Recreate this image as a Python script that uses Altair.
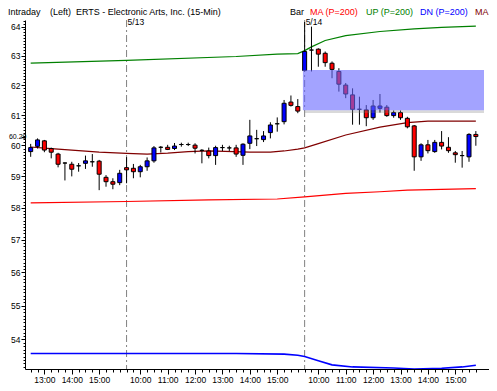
import json
import numpy as np
import pandas as pd
import altair as alt

# ---------------- data ----------------
day12_times = ["12:30", "12:45", "13:00", "13:15", "13:30", "13:45", "14:00", "14:15",
               "14:30", "14:45", "15:00", "15:15", "15:30", "15:45"]
day_times = ["9:30", "9:45", "10:00", "10:15", "10:30", "10:45", "11:00", "11:15", "11:30",
             "11:45", "12:00", "12:15", "12:30", "12:45", "13:00", "13:15", "13:30", "13:45",
             "14:00", "14:15", "14:30", "14:45", "15:00", "15:15", "15:30", "15:45"]
times = day12_times + day_times + day_times

opens = [59.80, 59.97, 60.15, 59.90, 59.72, 59.43, 59.39, 59.34, 59.42, 59.47, 59.49, 58.97, 58.83, 58.80,
         59.28, 59.26, 59.15, 59.31, 59.50, 59.94, 59.94, 59.90, 60.03, 60.03, 60.01, 59.84, 59.82, 59.67,
         59.93, 59.92, 59.92, 59.68, 60.07, 60.22, 60.19, 60.42, 60.71, 60.78, 61.43, 61.28,
         62.49, 63.19, 63.22, 63.08, 62.74, 62.46, 62.00, 61.67, 61.19, 61.17, 60.91, 61.22, 61.26, 60.98,
         61.08, 60.89, 60.64, 59.63, 60.02, 59.80, 60.10, 59.94, 59.76, 59.67, 59.63, 60.36]
highs = [60.05, 60.23, 60.18, 59.93, 59.76, 59.45, 59.47, 59.43, 59.67, 59.72, 59.53, 59.04, 58.94, 59.21,
         59.62, 59.40, 59.37, 59.61, 59.98, 59.98, 60.02, 60.08, 60.09, 60.09, 60.07, 59.88, 59.93, 59.99,
         60.02, 59.99, 60.02, 60.07, 60.84, 60.51, 60.47, 60.76, 60.92, 61.50, 61.65, 61.53,
         64.16, 64.00, 63.25, 63.14, 62.80, 62.57, 62.07, 61.89, 61.61, 61.33, 61.50, 61.70, 61.33, 61.15,
         61.15, 60.94, 60.67, 60.07, 60.18, 60.18, 60.47, 60.27, 59.82, 59.82, 60.40, 60.47]
lows = [59.63, 59.90, 59.78, 59.58, 59.29, 58.87, 59.00, 59.15, 59.24, 59.31, 58.56, 58.67, 58.59, 58.72,
        58.78, 58.94, 58.97, 59.18, 59.44, 59.77, 59.85, 59.85, 59.96, 59.98, 59.74, 59.42, 59.58, 59.37,
        59.82, 59.82, 59.63, 59.37, 59.88, 59.98, 60.11, 60.23, 60.45, 60.69, 61.28, 61.06,
        62.46, 62.46, 62.62, 62.62, 62.23, 61.78, 61.56, 60.68, 60.68, 60.63, 60.84, 61.08, 60.94, 60.91,
        60.84, 60.56, 59.18, 59.50, 59.74, 59.76, 59.87, 59.76, 59.44, 59.28, 59.47, 59.99]
closes = [59.93, 60.18, 59.85, 59.78, 59.39, 59.43, 59.23, 59.34, 59.50, 59.47, 59.07, 58.83, 58.75, 59.10,
          59.21, 59.15, 59.31, 59.50, 59.92, 59.94, 59.87, 59.98, 60.03, 60.03, 59.91, 59.84, 59.67, 59.93,
          59.93, 59.92, 59.72, 60.04, 60.31, 60.22, 60.31, 60.67, 60.71, 61.39, 61.32, 61.13,
          63.14, 63.19, 63.05, 62.76, 62.53, 62.03, 61.70, 61.19, 61.19, 60.91, 61.30, 61.30, 60.98, 61.08,
          60.91, 60.61, 59.63, 60.02, 59.83, 60.10, 59.98, 59.83, 59.70, 59.67, 60.36, 60.29]

# indicator lines (bar index)
up_idx = [0, 14, 30, 36, 39, 40, 41, 43, 46, 51, 56, 60, 65]
up_val = [62.74, 62.84, 62.97, 63.05, 63.07, 63.17, 63.30, 63.52, 63.69, 63.83, 63.92, 63.97, 64.02]
ma_idx = [0, 14, 26, 36, 40, 46, 51, 55, 65]
ma_val = [58.16, 58.20, 58.25, 58.28, 58.35, 58.46, 58.51, 58.56, 58.61]
dn_idx = [0, 30, 37, 39, 40, 42, 44, 47, 53, 56, 60, 63, 65]
dn_val = [53.59, 53.59, 53.57, 53.54, 53.50, 53.38, 53.26, 53.20, 53.17, 53.14, 53.16, 53.20, 53.25]
ma2_idx = [0, 2, 4, 7, 10, 14, 17, 20, 23, 26, 32, 35, 37, 39, 40, 42, 46, 51, 55, 58, 65]
ma2_val = [59.95, 59.91, 59.88, 59.83, 59.78, 59.74, 59.72, 59.75, 59.80, 59.82, 59.78, 59.78, 59.82,
           59.88, 59.92, 60.06, 60.34, 60.60, 60.75, 60.80, 60.80]

day_start_idx = [14, 40]
day_labels = ["5/13", "5/14"]

zone_x = [39.75]
zone_x2 = [66.19]
zone_top = [62.51]
zone_bottom = [61.16]
shadow_bottom = [61.07]

last_price = 60.29
y_ticks = [54, 55, 56, 57, 58, 59, 60, 61, 62, 63, 64, last_price]
hour_idx = [i for i, t in enumerate(times) if t.endswith(":00")]

header_texts = ["Intraday", "(Left)", "ERTS - Electronic Arts, Inc. (15-Min)", "Bar",
                "MA (P=200)", "UP (P=200)", "DN (P=200)", "MA (P=200)"]
header_colors = ["black", "black", "black", "black", "#ff0000", "#008000", "#0000ff", "#800000"]
header_x = [-17, 25, 51, 265, 285, 341, 395, 450]

# ---------------- chart ----------------
FONT = "Liberation Sans"
bars = pd.DataFrame({"i": list(range(len(opens))), "open": opens, "high": highs,
                     "low": lows, "close": closes})
bars["dir"] = np.where(bars["close"] > bars["open"], "up",
                       np.where(bars["close"] < bars["open"], "down", "flat"))

x_scale = alt.Scale(domain=[-0.1, 66.19], nice=False, zero=False)
y_scale = alt.Scale(type="log", domain=[53.14, 64.23], nice=False, zero=False)


def X(f):
    return alt.X(f, scale=x_scale, axis=None)


def Y(f):
    return alt.Y(f, scale=y_scale, axis=None)


last_test = f"datum.value == {last_price}"

sep = alt.Chart(pd.DataFrame({"i": day_start_idx, "label": day_labels})).mark_rule(
    color="#808080", strokeDash=[7, 3, 2, 3], strokeWidth=1
).encode(x=X("i:Q"))

date_text = alt.Chart(pd.DataFrame({"i": day_start_idx, "label": day_labels})).mark_text(
    align="left", baseline="alphabetic", dx=1, font=FONT, fontSize=8.5, color="black"
).encode(x=X("i:Q"), y=alt.value(5), text="label:N")


def line(idx, val, color, width):
    return alt.Chart(pd.DataFrame({"i": idx, "v": val})).mark_line(
        color=color, strokeWidth=width, clip=True, interpolate="linear"
    ).encode(x=X("i:Q"), y=Y("v:Q"))


l_ma = line(ma_idx, ma_val, "#ff0000", 1.2)
l_up = line(up_idx, up_val, "#008000", 1.2)
l_dn = line(dn_idx, dn_val, "#0000ff", 1.6)
l_ma2 = line(ma2_idx, ma2_val, "#800000", 1.2)

wicks = alt.Chart(bars).mark_rule(color="black", strokeWidth=1, clip=True).encode(
    x=alt.X("i:Q", scale=x_scale, axis=alt.Axis(
        values=hour_idx, labelExpr=f"{json.dumps(times)}[datum.value]", orient="bottom",
        tickSize=5, labelPadding=1, labelFontSize=8.5, labelFont=FONT, labelFlush=False,
        labelBaseline="top", labelOverlap=False, grid=False, title=None, domainColor="black",
        tickColor="black", labelColor="black")),
    y=alt.Y("low:Q", scale=y_scale, axis=alt.Axis(
        values=y_ticks, orient="left", tickSize=4, grid=False, title=None, labelFont=FONT,
        labelPadding={"condition": {"test": last_test, "value": -5}, "value": 1},
        labelFontSize={"condition": {"test": last_test, "value": 7}, "value": 8.5},
        labelOverlap=False, domainColor="black", tickColor="black", labelColor="black",
        labelExpr=f"{last_test} ? '{last_price}' : format(datum.value, 'd')")),
    y2="high:Q",
)

bodies = alt.Chart(bars).mark_bar(size=4, stroke="black", strokeWidth=1, clip=True).encode(
    x=alt.X("i:Q", scale=x_scale, axis=alt.Axis(
        values=list(range(len(opens))), orient="bottom", tickSize=3, labels=False,
        domain=False, grid=False, title=None, tickColor="black")),
    y=alt.Y("open:Q", scale=y_scale, axis=alt.Axis(
        values=[round(53.2 + 0.1 * k, 1) for k in range(111)], orient="left", tickSize=2,
        labels=False, domain=False, grid=False, title=None, tickColor="black")),
    y2="close:Q",
    color=alt.Color("dir:N", scale=alt.Scale(domain=["up", "down", "flat"],
                                             range=["#0000ff", "#ff0000", "#000000"]), legend=None),
)

zone_df = pd.DataFrame({"x": zone_x, "x2": zone_x2, "top": zone_top, "bot": zone_bottom,
                        "sbot": shadow_bottom})
shadow = alt.Chart(zone_df).mark_rect(color="#808080", opacity=0.3, clip=True).encode(
    x=X("x:Q"), x2="x2:Q", y=Y("bot:Q"), y2="sbot:Q", xOffset=alt.value(2))
zone = alt.Chart(zone_df).mark_rect(color="#6666ff", opacity=0.6, clip=True).encode(
    x=X("x:Q"), x2="x2:Q", y=Y("top:Q"), y2="bot:Q")

headers = []
for t, c, hx in zip(header_texts, header_colors, header_x):
    headers.append(
        alt.Chart(pd.DataFrame({"t": [t]})).mark_text(
            align="left", baseline="alphabetic", font=FONT, fontSize=9, color=c
        ).encode(x=alt.value(hx), y=alt.value(-5), text="t:N")
    )

chart = alt.layer(
    sep, l_ma, l_up, l_dn, l_ma2, wicks, bodies, shadow, zone, date_text, *headers
).resolve_axis(x="independent", y="independent").properties(
    width=464, height=349,
    padding={"left": 17, "top": 12, "right": 0, "bottom": 16},
    autosize=alt.AutoSizeParams(type="none"),
    background="white",
).configure_view(strokeWidth=0)

chart.save("out.html", embed_options={"renderer": "svg", "actions": False})
